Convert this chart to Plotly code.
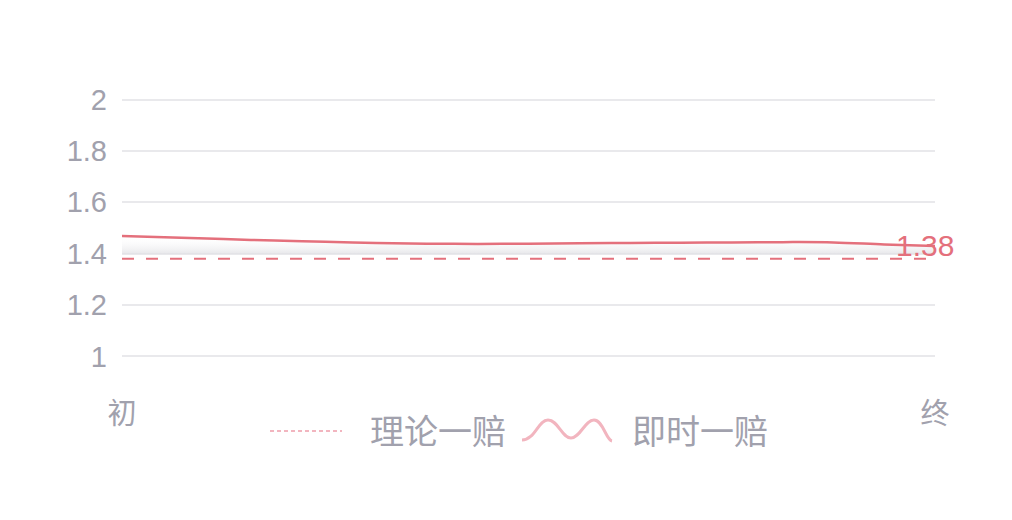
import plotly.graph_objects as go

# 数据
x_idx = list(range(17))
x_ticktext = ["初", "终"]
odds_live = [1.469, 1.463, 1.457, 1.451, 1.446, 1.442, 1.439, 1.438, 1.439,
             1.441, 1.442, 1.443, 1.444, 1.445, 1.444, 1.436, 1.430]
odds_theory = 1.38
fill_base = 1.40
y_ticks = [1, 1.2, 1.4, 1.6, 1.8, 2]
y_ticktext = ["1", "1.2", "1.4", "1.6", "1.8", "2"]
legend_names = ["理论一赔", "即时一赔"]

RED = "#e4707c"
PINK = "#f2b5bf"
GRAY_TXT = "#a1a1ad"
GRID = "#e9e9ec"
FONT = "Helvetica, Liberation Sans, Noto Sans CJK SC, sans-serif"

OFF = 8  # body margin of the page
W, H = 1012, 520
L, R, T, B = 114, 85, 89, 169
PW, PH = W - L - R, H - T - B


def pp(x, y):
    # screenshot pixel -> paper
    return (x - OFF - L) / PW, (H - B - (y - OFF)) / PH


fig = go.Figure()

fig.add_trace(go.Scatter(
    x=x_idx, y=[fill_base] * len(x_idx), mode="lines",
    line=dict(width=0), hoverinfo="skip", showlegend=False))

fig.add_trace(go.Scatter(
    x=x_idx, y=odds_live, mode="lines", name=legend_names[1],
    line=dict(color=RED, width=2.5, shape="spline"),
    fill="tonexty",
    fillgradient=dict(type="vertical",
                      colorscale=[[0, "rgba(222,222,226,0.7)"],
                                  [1, "rgba(255,255,255,0)"]]),
    showlegend=False))

fig.add_trace(go.Scatter(
    x=x_idx, y=[odds_theory] * len(x_idx), mode="lines", name=legend_names[0],
    line=dict(color=RED, width=2, dash="12px,12px"), showlegend=False))

fig.add_annotation(x=x_idx[-1], y=odds_theory, text=f"{odds_theory:.2f}",
                   showarrow=False, xanchor="center", yanchor="middle",
                   xshift=-10, yshift=13,
                   font=dict(family=FONT, size=30, color=RED))

# 自定义图例
x0, y0 = pp(270, 431)
x1, y1 = pp(342, 431)
fig.add_shape(type="line", xref="paper", yref="paper", x0=x0, y0=y0, x1=x1, y1=y1,
              line=dict(color=PINK, width=2, dash="4px,3px"))

wave_pts = [(522, 440), (535, 440), (538, 420), (548, 420), (558, 420), (562, 438),
            (571, 438), (580, 438), (585, 420), (594, 420), (603, 420), (606, 440),
            (612, 441)]
wp = [pp(a, b) for a, b in wave_pts]
path = f"M {wp[0][0]},{wp[0][1]}"
for i in range(1, len(wp), 3):
    path += " C " + " ".join(f"{p[0]},{p[1]}" for p in wp[i:i + 3])
fig.add_shape(type="path", xref="paper", yref="paper", path=path,
              line=dict(color=PINK, width=3))

for name, px_x in zip(legend_names, [368, 630]):
    ax, ay = pp(px_x, 432)
    fig.add_annotation(xref="paper", yref="paper", x=ax, y=ay, text=name,
                       showarrow=False, xanchor="left", yanchor="middle",
                       font=dict(family=FONT, size=34, color=GRAY_TXT))

fig.update_layout(
    width=W, height=H,
    margin=dict(l=L, r=R, t=T, b=B),
    plot_bgcolor="white", paper_bgcolor="white",
    showlegend=False,
    xaxis=dict(range=[x_idx[0], x_idx[-1]], tickvals=[x_idx[0], x_idx[-1]],
               ticktext=x_ticktext, showgrid=False, zeroline=False, showline=False,
               ticklabelstandoff=35,
               tickfont=dict(family=FONT, size=29, color=GRAY_TXT)),
    yaxis=dict(range=[0.99, 2.01], tickvals=y_ticks, ticktext=y_ticktext,
               showgrid=True, gridcolor=GRID, gridwidth=2, zeroline=False,
               showline=False, ticklabelstandoff=14,
               tickfont=dict(family=FONT, size=29, color=GRAY_TXT)),
)

fig.write_html("out.html")
